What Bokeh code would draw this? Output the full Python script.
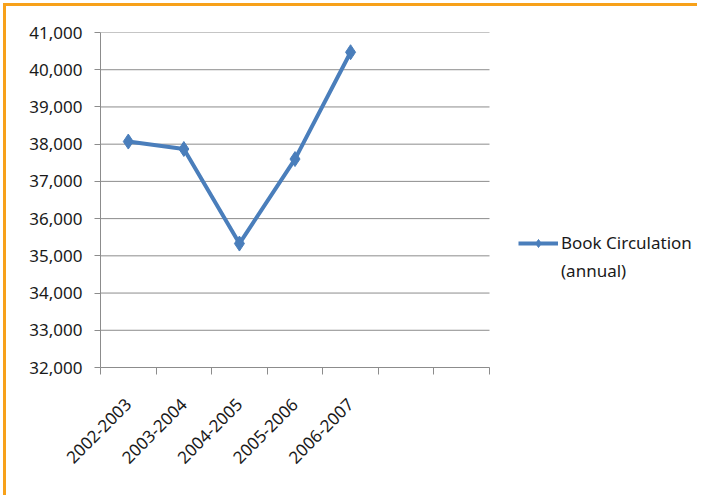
import math
from bokeh.plotting import figure
from bokeh.models import (FixedTicker, NumeralTickFormatter, Range1d, Legend, LegendItem,
                          ColumnDataSource)
from bokeh.embed import file_html
from bokeh.resources import INLINE

# ---- data ----
categories = ["2002-2003", "2003-2004", "2004-2005", "2005-2006", "2006-2007"]
n_slots = 7  # the category axis has room for seven slots, only five filled
circulation = [38070, 37870, 35330, 37600, 40470]
y_ticks = [32000, 33000, 34000, 35000, 36000, 37000, 38000, 39000, 40000, 41000]
series_name = ["Book Circulation", "(annual)"]

xs = [i + 0.5 for i in range(len(categories))]
src = ColumnDataSource(dict(x=xs, y=circulation, cat=categories))

FONT = "Noto Sans"
BLUE = "#4A7EBB"
GRID = "#8C8C8C"

W, H = 694, 492
LEFT, TOP, BOTTOM = 92, 24, 133
AXIS_W = 389            # pixel width of the 7-slot category axis
frame_w = W - LEFT
x_end = n_slots * frame_w / AXIS_W   # frame reaches into the legend area

p = figure(width=W, height=H, output_backend="svg", toolbar_location=None,
           x_range=Range1d(0, x_end), y_range=Range1d(y_ticks[0], y_ticks[-1]),
           min_border_left=LEFT, min_border_right=0, min_border_top=TOP,
           min_border_bottom=BOTTOM)
p.outline_line_color = None
p.background_fill_color = "white"
p.border_fill_color = "white"
p.styles = {"margin-left": "3px", "margin-top": "3px",
            "border-left": "3px solid #F7A11A", "border-top": "3px solid #F7A11A",
            "padding-left": "2px", "padding-top": "2px"}

# x axis: labels at category centres, ticks at slot boundaries
p.xaxis.bounds = (0, n_slots)
p.xaxis.ticker = FixedTicker(ticks=xs, minor_ticks=list(range(n_slots + 1)))
p.xaxis.major_label_overrides = {x: c for x, c in zip(xs, categories)}
p.xaxis.major_label_orientation = math.pi / 4
p.xaxis.major_tick_out = 0
p.xaxis.major_tick_in = 0
p.xaxis.minor_tick_out = 7
p.xaxis.minor_tick_in = 0
p.xaxis.minor_tick_line_color = GRID
p.xaxis.axis_line_color = GRID
p.xaxis.major_label_text_font = FONT
p.xaxis.major_label_text_font_size = "17px"
p.xaxis.major_label_text_color = "#1A1A1A"
p.xaxis.major_label_standoff = 27
p.xgrid.grid_line_color = None

p.yaxis.ticker = FixedTicker(ticks=y_ticks, minor_ticks=[])
p.yaxis.formatter = NumeralTickFormatter(format="0,0")
p.yaxis.major_tick_out = 6
p.yaxis.major_tick_in = 0
p.yaxis.major_tick_line_color = GRID
p.yaxis.axis_line_color = GRID
p.yaxis.major_label_text_font = FONT
p.yaxis.major_label_text_font_size = "17px"
p.yaxis.major_label_text_color = "#1A1A1A"
p.yaxis.major_label_standoff = 12
p.ygrid.grid_line_color = None

# horizontal gridlines limited to the category axis extent
p.segment(x0=[0] * len(y_ticks), x1=[n_slots] * len(y_ticks), y0=y_ticks, y1=y_ticks,
          line_color=GRID, line_width=1)

ln = p.line("x", "y", source=src, line_color=BLUE, line_width=4)
mk = p.scatter("x", "y", source=src, marker="diamond", size=15,
               fill_color=BLUE, line_color=BLUE)
ghost = p.scatter("x", "y", source=src, marker="square", size=1, alpha=0)

legend = Legend(items=[LegendItem(label=series_name[0], renderers=[ln, mk]),
                       LegendItem(label=series_name[1], renderers=[ghost])],
                location=(418, 85), orientation="vertical",
                glyph_width=40, glyph_height=20, label_height=20, spacing=5,
                padding=0, margin=0, label_standoff=3,
                label_text_font=FONT, label_text_font_size="17px",
                label_text_color="#1A1A1A",
                border_line_color=None, background_fill_alpha=0)
p.add_layout(legend)

open("out.html", "w").write(file_html(p, INLINE))
